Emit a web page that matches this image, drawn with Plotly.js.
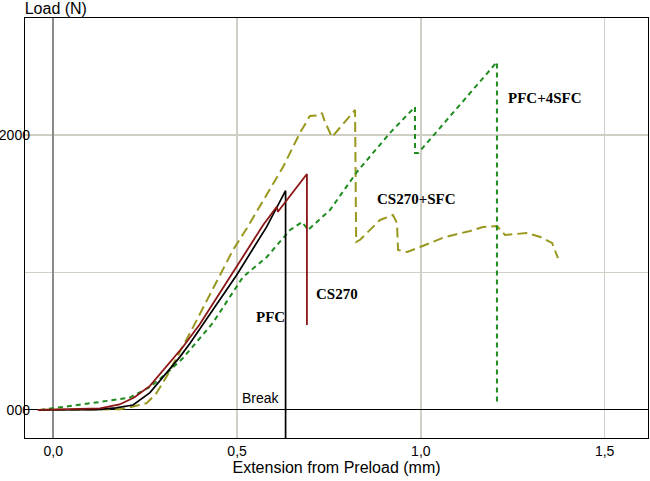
<!DOCTYPE html>
<html>
<head>
<meta charset="utf-8">
<script src="https://cdn.plot.ly/plotly-3.0.1.min.js"></script>
<style>html,body{margin:0;padding:0;background:#fff;}#chart{width:650px;height:481px;}</style>
</head>
<body>
<div id="chart"></div>
<script>
// Extension from preload (mm) and load (N)
var pfcX = [-0.042, 0.05, 0.12, 0.17, 0.217, 0.263, 0.308, 0.345, 0.372, 0.435, 0.499, 0.58, 0.617, 0.632, 0.632];
var pfcY = [0, 0, 3, 15, 36, 126, 267, 388, 485, 727, 982, 1330, 1515, 1595, -300];

var cs270X = [-0.042, 0.09, 0.127, 0.18, 0.22, 0.263, 0.30, 0.353, 0.399, 0.489, 0.571, 0.608, 0.611, 0.690, 0.690];
var cs270Y = [0, 6, 12, 40, 90, 175, 290, 460, 625, 1006, 1345, 1478, 1442, 1716, 618];

var cs270sfcX = [-0.036, 0.15, 0.181, 0.217, 0.254, 0.28, 0.308, 0.381, 0.489, 0.527, 0.625, 0.671, 0.698, 0.726, 0.731, 0.737, 0.758, 0.821, 0.824, 0.834, 0.889, 0.924, 0.935, 0.938, 0.963, 0.998, 1.066, 1.134, 1.169, 1.207, 1.229, 1.289, 1.325, 1.357, 1.373];
var cs270sfcY = [0, 0, 5, 25, 49, 120, 242, 606, 1164, 1324, 1767, 2015, 2138, 2145, 2160, 2109, 1985, 2182, 1222, 1236, 1382, 1418, 1360, 1164, 1149, 1185, 1258, 1302, 1331, 1338, 1273, 1287, 1258, 1215, 1105];

var pfc4sfcX = [-0.036, 0.026, 0.127, 0.208, 0.263, 0.31, 0.353, 0.434, 0.516, 0.581, 0.644, 0.677, 0.693, 0.753, 0.826, 0.916, 0.984, 0.984, 0.993, 1.207, 1.207];
var pfc4sfcY = [0, 20, 58, 90, 167, 270, 378, 633, 967, 1113, 1309, 1367, 1309, 1455, 1731, 2015, 2204, 1869, 1869, 2531, 36];

var seriesNames = ["CS270+SFC", "PFC+4SFC", "PFC", "CS270"];
var labelX = [0.987, 1.338, 0.590, 0.772];
var labelY = [1535, 2269, 676, 844];
var breakLabel = {text: "Break", x: 0.565, y: 87};

var yTickVals = [0, 1000, 2000];
var yTickText = ["000", "", "2000"];
var xTickVals = [0, 0.5, 1.0, 1.5];

var traces = [
  {x: cs270sfcX, y: cs270sfcY, name: seriesNames[0], mode: "lines",
   line: {color: "#98981e", width: 2, dash: "10px,5px"}},
  {x: pfc4sfcX, y: pfc4sfcY, name: seriesNames[1], mode: "lines",
   line: {color: "#1f8c1f", width: 2, dash: "5px,4px"}},
  {x: pfcX, y: pfcY, name: seriesNames[2], mode: "lines",
   line: {color: "#000000", width: 1.7}},
  {x: cs270X, y: cs270Y, name: seriesNames[3], mode: "lines",
   line: {color: "#8b1414", width: 1.8}},
  {x: [0], y: [0], yaxis: "y2", mode: "markers", marker: {opacity: 0}, hoverinfo: "skip", showlegend: false}
];

var annotations = [];
for (var i = 0; i < seriesNames.length; i++) {
  annotations.push({x: labelX[i], y: labelY[i], xref: "x", yref: "y", text: "<b>" + seriesNames[i] + "</b>",
    showarrow: false, font: {family: "Liberation Serif, Times New Roman, serif", size: 15, color: "#000"},
    xanchor: "center", yanchor: "middle"});
}
annotations.push({x: breakLabel.x, y: breakLabel.y, xref: "x", yref: "y", text: breakLabel.text,
  showarrow: false, font: {family: "Liberation Sans, Arial, sans-serif", size: 14, color: "#000"},
  xanchor: "center", yanchor: "middle"});

var layout = {
  width: 650, height: 481,
  margin: {l: 25, r: 2, t: 18, b: 43},
  paper_bgcolor: "#ffffff", plot_bgcolor: "#ffffff",
  showlegend: false,
  separators: ",.",
  font: {family: "Liberation Sans, Arial, sans-serif", size: 14, color: "#000"},
  title: {text: "Load (N)", x: 0.038, xanchor: "left", xref: "container", y: 0.982, yanchor: "middle", yref: "container",
    font: {family: "Liberation Sans, Arial, sans-serif", size: 16, color: "#000"}},
  xaxis: {
    range: [-0.077, 1.618], tickvals: xTickVals, tickformat: ".1f",
    showgrid: true, gridcolor: "#cfcfc6", gridwidth: 1.3,
    zeroline: true, zerolinecolor: "#8a8a8a", zerolinewidth: 2,
    showline: true, linecolor: "#000", linewidth: 1, mirror: true,
    ticks: "", tickfont: {size: 14},
    title: {text: "Extension from Preload (mm)", font: {size: 16}, standoff: 3},
    automargin: false
  },
  yaxis: {
    range: [-204, 2851], tickvals: yTickVals, showticklabels: false,
    showgrid: true, gridcolor: "#cfcfc6", gridwidth: 1.3,
    zeroline: true, zerolinecolor: "#000", zerolinewidth: 1,
    showline: true, linecolor: "#000", linewidth: 1, mirror: true,
    ticks: "", automargin: false
  },
  yaxis2: {
    overlaying: "y", anchor: "free", side: "left", position: 0.008,
    range: [-204, 2851], tickvals: yTickVals, ticktext: yTickText,
    showgrid: false, zeroline: false, showline: false, ticks: "",
    tickfont: {size: 14}, automargin: false
  },
  annotations: annotations
};

Plotly.newPlot("chart", traces, layout, {displayModeBar: false, staticPlot: true});
</script>
</body>
</html>
